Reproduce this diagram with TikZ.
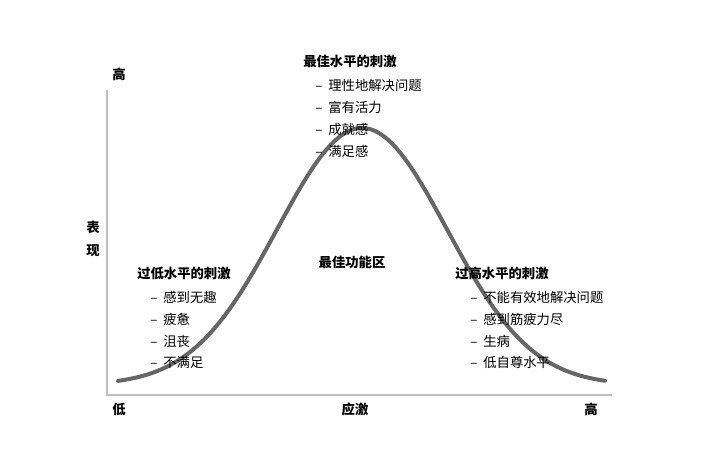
\documentclass[tikz,border=0pt]{standalone}
\usepackage{fontspec}
\setmainfont{Noto Sans CJK SC}
\begin{document}
\begin{tikzpicture}[x=0.75pt,y=-0.75pt,
  lbl/.style={anchor=west,inner sep=0pt,font=\fontsize{10}{12}\selectfont},
  hd/.style={anchor=west,inner sep=0pt,font=\fontsize{10}{12}\selectfont\bfseries},
  ax/.style={draw=black!25,line width=1pt}]
\useasboundingbox (0,0) rectangle (720,470);
\coordinate (o) at (107,395);
\coordinate (yt) at (107,90);
\coordinate (xr) at (612,395);
\draw[ax] (yt) -- (o) -- (xr);
\draw[black!60,line width=3pt,line cap=round] plot[domain=118:605,samples=120] (\x,{385-257*exp(-((\x-362)/120)^2)});
\node[hd,anchor=center] (yh) at (119,74) {高};
\node[hd,anchor=center] (yl1) at (93,227) {表};
\node[hd,anchor=center] (yl2) at (93,251) {现};
\node[hd,anchor=center] (xl) at (119,409) {低};
\node[hd,anchor=center] (xm) at (355,409) {应激};
\node[hd,anchor=center] (xh) at (591,409) {高};
\node[hd] (th) at (303,61) {最佳水平的刺激};
\node[lbl] (t1) at (315,85) {–\ \ 理性地解决问题};
\node[lbl] (t2) at (315,107) {–\ \ 富有活力};
\node[lbl] (t3) at (315,129) {–\ \ 成就感};
\node[lbl] (t4) at (315,151) {–\ \ 满足感};
\node[hd,anchor=center] (mid) at (352,262) {最佳功能区};
\node[hd] (lh) at (137,273) {过低水平的刺激};
\node[lbl] (l1) at (150,297) {–\ \ 感到无趣};
\node[lbl] (l2) at (150,319) {–\ \ 疲惫};
\node[lbl] (l3) at (150,341) {–\ \ 沮丧};
\node[lbl] (l4) at (150,362) {–\ \ 不满足};
\node[hd] (rh) at (455,273) {过高水平的刺激};
\node[lbl] (r1) at (470,297) {–\ \ 不能有效地解决问题};
\node[lbl] (r2) at (470,319) {–\ \ 感到筋疲力尽};
\node[lbl] (r3) at (470,341) {–\ \ 生病};
\node[lbl] (r4) at (470,362) {–\ \ 低自尊水平};
\end{tikzpicture}
\end{document}
